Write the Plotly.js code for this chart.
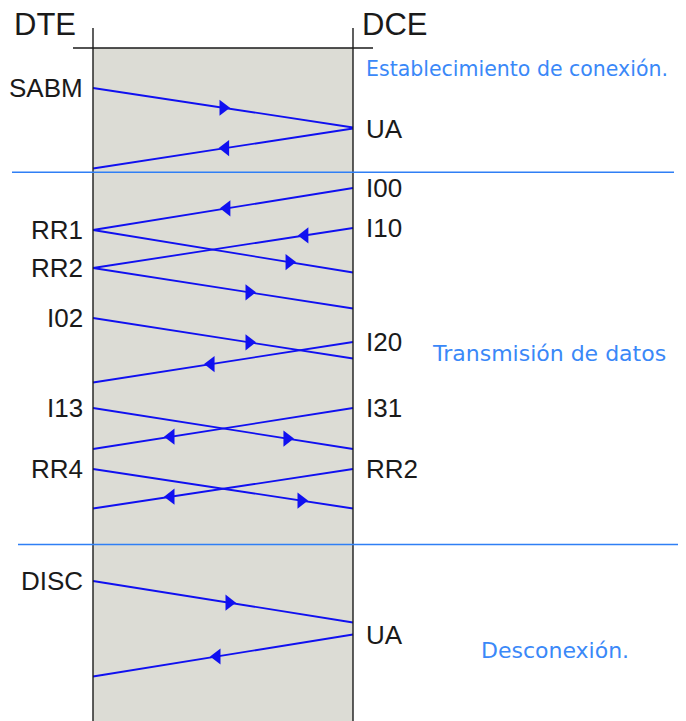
<!DOCTYPE html>
<html>
<head>
<meta charset="utf-8">
<script src="https://cdn.plot.ly/plotly-3.0.1.min.js"></script>
<style>html,body{margin:0;padding:0;background:#fff;}#chart{width:686px;height:721px;}</style>
</head>
<body>
<div id="chart"></div>
<script>
// ---- data ----
const stations = ["DTE", "DCE"];
const msgLabels = ["SABM", "UA", "I00", "I10", "RR1", "RR2", "I02", "I20", "I13", "I31", "RR4", "RR2", "DISC", "UA"];
const msgFrom   = ["DTE", "DCE", "DCE", "DCE", "DTE", "DTE", "DTE", "DCE", "DTE", "DCE", "DTE", "DCE", "DTE", "DCE"];
const tSend     = [88, 128.5, 188, 228, 230, 268, 318, 342, 408, 408, 469, 469, 581, 634.5];
const tRecv     = [127.5, 168.5, 230, 268, 272.5, 308.5, 358.5, 382.5, 449, 449, 508.5, 508.5, 622.5, 676.5];
const arrowPos  = [0.50, 0.49, 0.485, 0.185, 0.754, 0.60, 0.60, 0.546, 0.746, 0.70, 0.80, 0.70, 0.523, 0.523];
const phaseNames = ["Establecimiento de conexión.", "Transmisión de datos", "Desconexión."];
const phaseBounds = [172.3, 544.5];

// ---- layout helpers ----
const xOf = {DTE: 0, DCE: 1};
const W = 686, H = 721;
const left = 93, unit = 260;
const xr = [-left / unit, (W - left) / unit];
const px = p => (p - left) / unit;

const msgColor = "#1010f0";
const sepColor = "#2f7ff5";
const phaseColor = "#3a88f8";

const traces = [];
const arrX = [], arrY = [], arrSym = [];
for (let i = 0; i < msgLabels.length; i++) {
  const from = msgFrom[i];
  const to = from === "DTE" ? "DCE" : "DTE";
  const x0 = xOf[from], x1 = xOf[to];
  traces.push({
    type: "scatter", mode: "lines",
    x: [x0, x1], y: [tSend[i], tRecv[i]],
    line: {color: msgColor, width: 1.8},
    hoverinfo: "skip", showlegend: false
  });
  const f = arrowPos[i];
  arrX.push(x0 + (x1 - x0) * f);
  arrY.push(tSend[i] + (tRecv[i] - tSend[i]) * f);
  arrSym.push(x1 > x0 ? "triangle-right" : "triangle-left");
}
traces.push({
  type: "scatter", mode: "markers",
  x: arrX, y: arrY,
  marker: {symbol: arrSym, size: 14, color: msgColor, line: {width: 0}},
  hoverinfo: "skip", showlegend: false
});

const shapes = [
  {type: "rect", xref: "x", yref: "y", x0: 0, x1: 1, y0: 48, y1: H + 5, fillcolor: "#dcdcd5", line: {width: 0}, layer: "below"},
  {type: "line", xref: "x", yref: "y", x0: 0, x1: 0, y0: 28, y1: H + 5, line: {color: "#1a1a1a", width: 1.4}},
  {type: "line", xref: "x", yref: "y", x0: 1, x1: 1, y0: 28, y1: H + 5, line: {color: "#1a1a1a", width: 1.4}},
  {type: "line", xref: "x", yref: "y", x0: px(73), x1: px(373), y0: 48, y1: 48, line: {color: "#1a1a1a", width: 1.4}},
  {type: "line", xref: "x", yref: "y", x0: px(12), x1: px(674), y0: phaseBounds[0], y1: phaseBounds[0], line: {color: sepColor, width: 1.4}},
  {type: "line", xref: "x", yref: "y", x0: px(18), x1: px(678), y0: phaseBounds[1], y1: phaseBounds[1], line: {color: sepColor, width: 1.4}}
];

const labelFont = {family: "Liberation Sans, Arial, sans-serif", size: 26, color: "#1a1a1a"};
const annotations = [];
for (let i = 0; i < msgLabels.length; i++) {
  const isLeft = msgFrom[i] === "DTE";
  annotations.push({
    xref: "x", yref: "y", x: xOf[msgFrom[i]], y: tSend[i],
    text: msgLabels[i], showarrow: false,
    xanchor: isLeft ? "right" : "left", yanchor: "middle",
    xshift: isLeft ? -8 : 11, yshift: 0,
    font: labelFont
  });
}
// station headers
const headFont = {family: "Liberation Sans, Arial, sans-serif", size: 31, color: "#1a1a1a"};
annotations.push({xref: "x", yref: "y", x: xOf[stations[0]], y: 24, text: stations[0], showarrow: false,
  xanchor: "right", yanchor: "middle", xshift: -15, font: headFont});
annotations.push({xref: "x", yref: "y", x: xOf[stations[1]], y: 24, text: stations[1], showarrow: false,
  xanchor: "left", yanchor: "middle", xshift: 7, font: headFont});
// phase labels
const phaseSizes = [20.5, 22, 22];
const phasePos = [[px(364), 69], [px(430), 353], [px(479), 650]];
for (let k = 0; k < phaseNames.length; k++) {
  annotations.push({xref: "x", yref: "y", x: phasePos[k][0], y: phasePos[k][1], text: phaseNames[k], showarrow: false,
    xanchor: "left", yanchor: "middle", font: {family: "DejaVu Sans, sans-serif", size: phaseSizes[k], color: phaseColor}});
}

const layout = {
  width: W, height: H,
  margin: {l: 0, r: 0, t: 0, b: 0, pad: 0},
  paper_bgcolor: "#ffffff", plot_bgcolor: "#ffffff",
  xaxis: {range: xr, visible: false, fixedrange: true},
  yaxis: {range: [H, 0], visible: false, fixedrange: true},
  shapes: shapes,
  annotations: annotations,
  showlegend: false
};

Plotly.newPlot("chart", traces, layout, {staticPlot: true, displayModeBar: false});
</script>
</body>
</html>
